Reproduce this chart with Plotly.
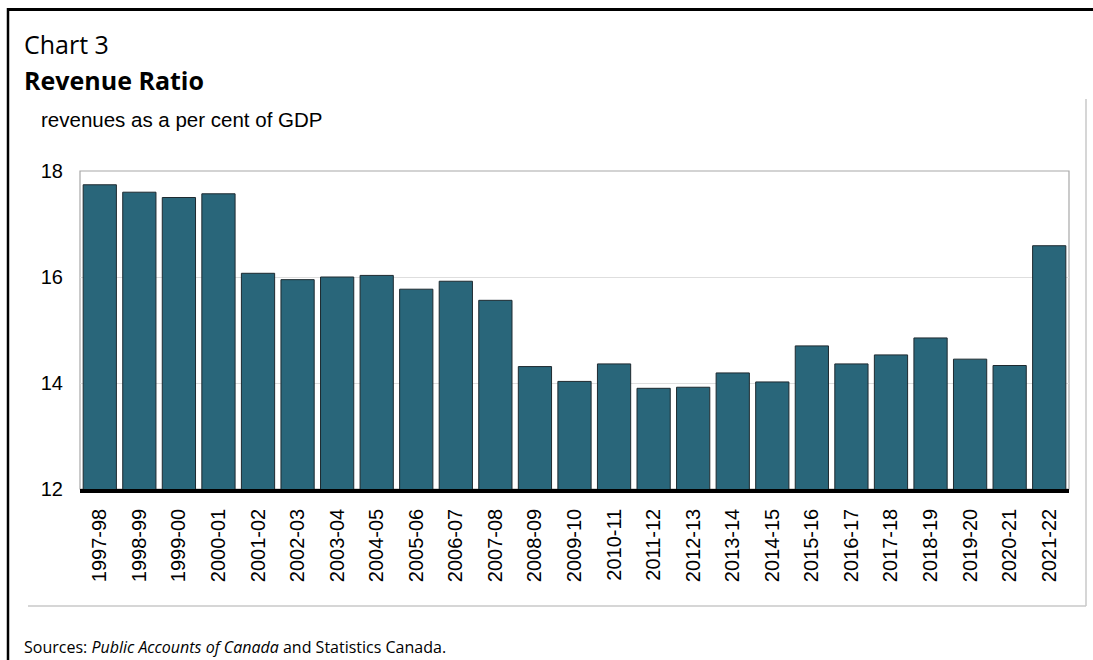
import plotly.graph_objects as go

# Fiscal years and federal revenues as a share of GDP (per cent)
years = ["1997-98", "1998-99", "1999-00", "2000-01", "2001-02", "2002-03",
         "2003-04", "2004-05", "2005-06", "2006-07", "2007-08", "2008-09",
         "2009-10", "2010-11", "2011-12", "2012-13", "2013-14", "2014-15",
         "2015-16", "2016-17", "2017-18", "2018-19", "2019-20", "2020-21",
         "2021-22"]
revenue_ratio = [17.74, 17.60, 17.50, 17.57, 16.07, 15.95,
                 16.00, 16.03, 15.77, 15.92, 15.56, 14.31,
                 14.03, 14.36, 13.90, 13.92, 14.19, 14.02,
                 14.70, 14.36, 14.53, 14.85, 14.45, 14.33,
                 16.59]
y_ticks = [12, 14, 16, 18]

W, H = 1093, 660
L, R, T, B = 80, 1069, 171, 489  # plot area in pixels


def px(x):
    return (x - L) / (R - L)


def py(y):
    return (B - y) / (B - T)


fig = go.Figure(go.Bar(
    x=years, y=revenue_ratio,
    marker=dict(color="#29667a", line=dict(color="#1e2a30", width=1)),
))

title_font = "Open Sans, Noto Sans, sans-serif"
chart_font = "Liberation Sans, Arial, sans-serif"

annotations = [
    dict(text="Chart 3", x=px(22), y=py(44), font=dict(family=title_font, size=25, color="#000")),
    dict(text="<b>Revenue Ratio</b>", x=px(22), y=py(80), font=dict(family=title_font, size=25, color="#000")),
    dict(text="revenues as a per cent of GDP", x=px(39), y=py(119), font=dict(family=chart_font, size=20.5, color="#000")),
    dict(text="Sources: <i>Public Accounts of Canada</i> and Statistics Canada.", x=px(22), y=py(647),
         font=dict(family=title_font, size=16, color="#000")),
]
for a in annotations:
    a.update(xref="paper", yref="paper", xanchor="left", yanchor="middle", showarrow=False)

shapes = [
    # outer black frame (top and left edges)
    dict(type="line", x0=px(7), x1=px(W + 5), y0=py(9.5), y1=py(9.5), line=dict(color="#000", width=3)),
    dict(type="line", x0=px(8), x1=px(8), y0=py(8), y1=py(H + 5), line=dict(color="#000", width=2.5)),
    # inner light grey frame (right and bottom edges)
    dict(type="line", x0=px(1086), x1=px(1086), y0=py(99), y1=py(606), line=dict(color="#c8c8c8", width=1.5)),
    dict(type="line", x0=px(28), x1=px(1086), y0=py(606), y1=py(606), line=dict(color="#c8c8c8", width=1.5)),
    # plot area border
    dict(type="rect", x0=0, x1=1, y0=0, y1=1, line=dict(color="#a8a8a8", width=1.2), layer="below"),
]
for s in shapes:
    s.update(xref="paper", yref="paper")

fig.update_layout(
    width=W, height=H,
    margin=dict(l=L, r=W - R, t=T, b=H - B),
    paper_bgcolor="white", plot_bgcolor="white",
    bargap=0.16,
    showlegend=False,
    annotations=annotations,
    shapes=shapes,
    font=dict(family=chart_font, color="#000"),
)
fig.update_xaxes(
    type="category",
    tickangle=-90, tickfont=dict(family=chart_font, size=20, color="#000"),
    showline=True, linecolor="#000", linewidth=3.5, showgrid=False,
    ticks="", ticklabelstandoff=8,
)
fig.update_yaxes(
    range=[12, 18], tickvals=y_ticks, tickfont=dict(family=chart_font, size=20, color="#000"),
    showgrid=True, gridcolor="#dedede", gridwidth=1, zeroline=False,
    showline=False, ticks="", ticklabelstandoff=16,
)

fig.write_html("out.html")
